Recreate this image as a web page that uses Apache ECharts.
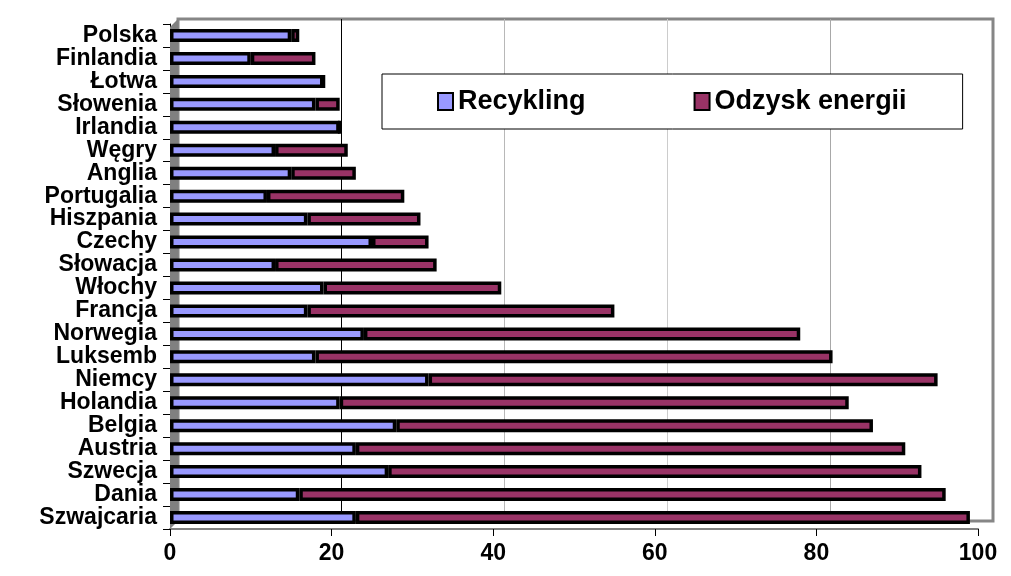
<!DOCTYPE html>
<html><head><meta charset="utf-8">
<script src="https://cdn.jsdelivr.net/npm/echarts/dist/echarts.min.js"></script>
<style>html,body{margin:0;padding:0;background:#fff}#c{width:1011px;height:576px}</style>
</head><body><div id="c"></div>
<script>
const categories = ['Polska','Finlandia','Łotwa','Słowenia','Irlandia','Węgry','Anglia','Portugalia','Hiszpania','Czechy','Słowacja','Włochy','Francja','Norwegia','Luksemb','Niemcy','Holandia','Belgia','Austria','Szwecja','Dania','Szwajcaria'];
const recykling = [15,10,19,18,21,13,15,12,17,25,13,19,17,24,18,32,21,28,23,27,16,23];
const odzyskEnergii = [1,8,0,3,0,9,8,17,14,7,20,22,38,54,64,63,63,59,68,66,80,76];
const seriesNames = ['Recykling','Odzysk energii'];
const xMin = 0, xMax = 100, xStep = 20;

const FONT = '"Liberation Sans", Arial, sans-serif';
const chart = echarts.init(document.getElementById('c'), null, {renderer:'canvas'});
const barStyle = (color) => ({
  color: color, borderColor: '#000', borderWidth: 3.5
});
chart.setOption({
  animation: false,
  backgroundColor: '#fff',
  grid: [
    {left: 170, right: 33, top: 24, bottom: 47, show: false},
    {left: 178, right: 18, top: 19, bottom: 55, show: true, borderColor: '#868686', borderWidth: 3, backgroundColor: 'transparent'}
  ],
  graphic: [{
    type: 'polygon', z: 1,
    shape: {points: [[170,27],[178,19],[178,521],[170,529]]},
    style: {fill: '#808080'}
  }],
  legend: {
    left: 382, top: 74,
    padding: [14, 56, 14, 55],
    itemGap: 108, itemWidth: 15, itemHeight: 17, itemTextGap: 5,
    backgroundColor: '#fff', borderColor: '#000', borderWidth: 1,
    textStyle: {fontFamily: FONT, fontWeight: 'bold', fontSize: 27, color: '#000'},
    itemStyle: {borderColor: '#000', borderWidth: 2},
    data: seriesNames.map(n => ({name: n, icon: 'rect'})),
    z: 10
  },
  xAxis: [{
    gridIndex: 0, type: 'value', min: xMin, max: xMax, interval: xStep,
    axisLine: {show: true, lineStyle: {color: '#808080', width: 2}},
    axisTick: {show: true, length: 7, lineStyle: {color: '#000', width: 1}},
    axisLabel: {fontFamily: FONT, fontWeight: 'bold', fontSize: 23, color: '#000', margin: 13},
    splitLine: {show: false}
  }, {
    gridIndex: 1, type: 'value', min: xMin, max: xMax, interval: xStep,
    axisLine: {show: false}, axisTick: {show: false}, axisLabel: {show: false},
    splitLine: {show: true, showMinLine: false, showMaxLine: false,
      lineStyle: {color: ['#000000','#b8b8b8','#cccccc','#a8a8a8'], width: 1}}
  }],
  yAxis: [{
    gridIndex: 0, type: 'category', data: categories, inverse: true,
    axisLine: {show: true, lineStyle: {color: '#000', width: 1}},
    axisTick: {show: true, length: 7, interval: 0, lineStyle: {color: '#000'}},
    axisLabel: {interval: 0, fontFamily: FONT, fontWeight: 'bold', fontSize: 23, color: '#000', margin: 13}
  }, {
    gridIndex: 1, type: 'value', show: false, min: 0, max: 1
  }],
  series: [{
    name: seriesNames[0], type: 'bar', stack: 'a', xAxisIndex: 0, yAxisIndex: 0,
    data: recykling, barWidth: 13, itemStyle: barStyle('#9999FF'), z: 3
  }, {
    name: seriesNames[1], type: 'bar', stack: 'a', xAxisIndex: 0, yAxisIndex: 0,
    data: odzyskEnergii, barWidth: 13, itemStyle: barStyle('#993366'), z: 3
  }]
});
</script></body></html>
